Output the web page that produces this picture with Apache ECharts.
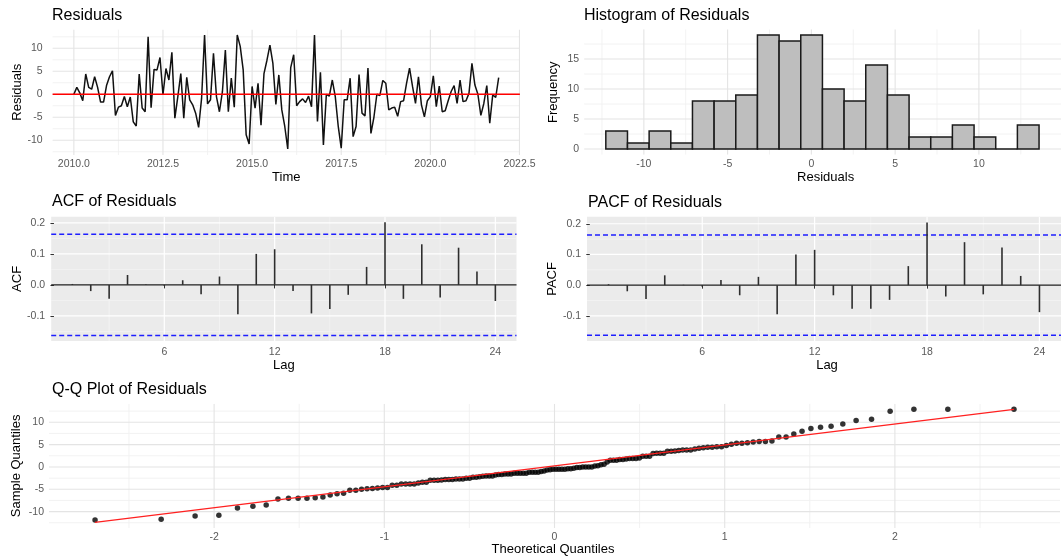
<!DOCTYPE html>
<html><head><meta charset="utf-8">
<script src="https://cdn.jsdelivr.net/npm/echarts@6/dist/echarts.min.js"></script>
<style>html,body{margin:0;padding:0;background:#fff}#c{width:1061px;height:557px}</style>
</head><body><div id="c"></div>
<script>
// ---------------- data ----------------
const startYear = 2010;
const monthsPerYear = 12;
const residuals = [
  0, 1.5, 0.3, -1.4, 4.4, 1.5, 1.1, 3.8, 1.5, -1.7, -1.7, 1.9,
  3.8, 5.1, -4.6, -2.8, -2.5, -0.5, -2.7, -0.6, -6.0, -6.9, 4.4, -3.0,
  -3.8, 12.5, -2.9, 5.4, 5.3, 8.0, -0.1, 5.6, 3.1, 9.1, -5.2, -0.5,
  4.5, -5.2, 3.7, -1.2, -2.3, -4.1, -7.2, -0.9, 12.9, -2.1, -1.2, 8.9,
  -0.5, -3.8, 0.5, 9.6, -3.8, 3.5, -2.8, 12.9, 10.4, 5.3, -8.8, -10.8,
  1.7, -3.0, 2.4, -6.7, 4.5, 7.4, 10.7, 6.7, -2.2, 4.2, -3.4, -7.0,
  -11.9, 5.8, 8.6, -2.5, -1.6, -1.0, -1.8, -0.4, -2.7, 12.9, -5.9, 4.8,
  -11.0, 0, -0.4, 3.1, -0.5, -7.0, -11.7, -1.2, -1.2, 3.5, -9.2, -7.0,
  4.3, -4.1, -4.7, 5.7, -8.5, -5.0, 0, -0.3, 3.0, 2.4, -3.4, -3.0,
  -2.8, -4.8, -1.6, -1.4, 2.4, 5.7, 1.7, -2.0, 3.8, -2.3, -4.9, -1.4,
  -0.5, 4.0, -2.7, 1.8, -3.8, -3.6, -1.4, 0.6, 1.9, -2.0, 3.1, -1.6,
  -1.4, 0.2, 6.7, 2.0, 0, -4.6, -2.0, 1.9, -6.3, -0.1, -0.7, 3.6
];
const histCounts = [3, 1, 3, 1, 8, 8, 9, 19, 18, 19, 10, 8, 14, 9, 2, 2, 4, 2, 0, 4];
const histFirstEdge = -12.27;
const histBinWidth = 1.293;
const lags = [1,2,3,4,5,6,7,8,9,10,11,12,13,14,15,16,17,18,19,20,21,22,23,24];
const acfValues = [0.003, -0.02, -0.045, 0.032, 0.001, -0.003, 0.015, -0.03, 0.027, -0.095, 0.1, 0.115,
                   -0.02, -0.092, -0.078, -0.032, 0.058, 0.202, -0.045, 0.131, -0.041, 0.12, 0.043, -0.052];
const pacfValues = [0.003, -0.02, -0.045, 0.032, 0.001, -0.005, 0.017, -0.033, 0.027, -0.095, 0.1, 0.115,
                    -0.033, -0.077, -0.077, -0.048, 0.062, 0.204, -0.037, 0.14, -0.03, 0.123, 0.03, -0.088];
const ciBound = 0.163;
const qqLineEnds = [[-2.70, -12.4], [2.70, 12.9]];
const timeTicks = [2010, 2012.5, 2015, 2017.5, 2020, 2022.5];
const residTicks = [-10, -5, 0, 5, 10];
const histXTicks = [-10, -5, 0, 5, 10];
const histYTicks = [0, 5, 10, 15];
const lagTicks = [6, 12, 18, 24];
const acfTicks = [-0.1, 0, 0.1, 0.2];
const qqXTicks = [-2, -1, 0, 1, 2];
const qqYTicks = [-10, -5, 0, 5, 10];

// ---------------- helpers ----------------
function qnorm(p){
  const a=[-3.969683028665376e+01,2.209460984245205e+02,-2.759285104469687e+02,1.383577518672690e+02,-3.066479806614716e+01,2.506628277459239e+00];
  const b=[-5.447609879822406e+01,1.615858368580409e+02,-1.556989798598866e+02,6.680131188771972e+01,-1.328068155288572e+01];
  const c=[-7.784894002430293e-03,-3.223964580411365e-01,-2.400758277161838e+00,-2.549671010322630e+00,4.374664141464968e+00,2.938163982698783e+00];
  const d=[7.784695709041462e-03,3.224671290700398e-01,2.445134137142996e+00,3.754408661907416e+00];
  const pl=0.02425, ph=1-pl; let q,r;
  if(p<pl){q=Math.sqrt(-2*Math.log(p));return (((((c[0]*q+c[1])*q+c[2])*q+c[3])*q+c[4])*q+c[5])/((((d[0]*q+d[1])*q+d[2])*q+d[3])*q+1);}
  if(p>ph){q=Math.sqrt(-2*Math.log(1-p));return -(((((c[0]*q+c[1])*q+c[2])*q+c[3])*q+c[4])*q+c[5])/((((d[0]*q+d[1])*q+d[2])*q+d[3])*q+1);}
  q=p-0.5;r=q*q;return (((((a[0]*r+a[1])*r+a[2])*r+a[3])*r+a[4])*r+a[5])*q/(((((b[0]*r+b[1])*r+b[2])*r+b[3])*r+b[4])*r+1);
}
function minorOf(ticks, range){
  const step = ticks[1]-ticks[0];
  const ext = [ticks[0]-step].concat(ticks, [ticks[ticks.length-1]+step]);
  const out = [];
  for (let i=0;i<ext.length-1;i++) out.push((ext[i]+ext[i+1])/2);
  return out.filter(v => v>range[0] && v<range[1]);
}

const FONT = '"Liberation Sans", Arial, Helvetica, sans-serif';
const tickColor = '#595959';

const grids = [
  {left:52.6, top:29.4, width:467.3, height:125.6},
  {left:584.2, top:29.3, width:483, height:125.4},
  {left:51.2, top:216.7, width:465.3, height:124.3, show:true, backgroundColor:'#EBEBEB', borderWidth:0},
  {left:587, top:216.7, width:480, height:124.3, show:true, backgroundColor:'#EBEBEB', borderWidth:0},
  {left:49, top:403.7, width:1011, height:124.3}
];
const ranges = [
  {x:[2009.404, 2022.512], y:[-13.2, 14.1]},
  {x:[-13.56, 14.9], y:[-0.95, 19.95]},
  {x:[-0.15, 25.15], y:[-0.181, 0.22]},
  {x:[-0.15, 25.15], y:[-0.182, 0.223]},
  {x:[-2.97, 2.97], y:[-13.67, 14.17]}
];
const axisTicks = [
  {x:timeTicks, y:residTicks, xf:v=>v.toFixed(1), yf:v=>String(v), tick:false, xm:3.5, ym:10},
  {x:histXTicks, y:histYTicks, xf:v=>String(v), yf:v=>String(v), tick:false, xm:3.5, ym:5},
  {x:lagTicks, y:acfTicks, xf:v=>String(v), yf:v=>v.toFixed(1), tick:true, xm:5.5, ym:6},
  {x:lagTicks, y:acfTicks, xf:v=>String(v), yf:v=>v.toFixed(1), tick:true, xm:5.5, ym:6},
  {x:qqXTicks, y:qqYTicks, xf:v=>String(v), yf:v=>String(v), tick:false, xm:4, ym:5}
];

function mkAxis(gi, range, ticks, fmt, showTick, margin){
  return {
    type:'value', gridIndex:gi, min:range[0], max:range[1],
    axisLine:{show:false},
    axisTick:{show:showTick, customValues:ticks, length:3.5, lineStyle:{color:'#333333', width:1}},
    axisLabel:{customValues:ticks, formatter:fmt, color:tickColor, fontSize:10.5, fontFamily:FONT, margin:margin},
    splitLine:{show:false}, minorSplitLine:{show:false}
  };
}
const xAxes = [], yAxes = [];
for (let i=0;i<5;i++){
  const t = axisTicks[i];
  xAxes.push(mkAxis(i, ranges[i].x, t.x, t.xf, t.tick, t.xm));
  yAxes.push(mkAxis(i, ranges[i].y, t.y, t.yf, t.tick, t.ym));
}

function gridLineSeries(gi, majStyle, minStyle){
  const r = ranges[gi], t = axisTicks[gi];
  const data = [];
  minorOf(t.x, r.x).forEach(v=>data.push([v,0,1]));
  minorOf(t.y, r.y).forEach(v=>data.push([v,1,1]));
  t.x.forEach(v=>data.push([v,0,0]));
  t.y.forEach(v=>data.push([v,1,0]));
  return {
    type:'custom', xAxisIndex:gi, yAxisIndex:gi, z:0, silent:true, clip:true,
    data:data, encode:{x:0, y:1},
    renderItem:function(params, api){
      const v = api.value(0), dim = api.value(1), minor = api.value(2);
      let p0, p1;
      if (dim === 0){ p0 = api.coord([v, r.y[0]]); p1 = api.coord([v, r.y[1]]); }
      else { p0 = api.coord([r.x[0], v]); p1 = api.coord([r.x[1], v]); }
      const st = minor ? minStyle : majStyle;
      return {type:'line', shape:{x1:p0[0], y1:p0[1], x2:p1[0], y2:p1[1]}, style:{stroke:st.color, lineWidth:st.width}};
    }
  };
}
const minimalMaj = {color:'#E4E4E4', width:1.1}, minimalMin = {color:'#F0F0F0', width:0.9};
const grayMaj = {color:'#FFFFFF', width:1.2}, grayMin = {color:'#F5F5F5', width:0.7};

function hline(gi, y, color, width, type){
  const r = ranges[gi];
  return {type:'line', xAxisIndex:gi, yAxisIndex:gi, z:3, silent:true, symbol:'none',
    data:[[r.x[0], y],[r.x[1], y]], lineStyle:{color:color, width:width, type:type||'solid'}};
}
function spikeSeries(gi, vals){
  return {type:'custom', xAxisIndex:gi, yAxisIndex:gi, z:4, silent:true,
    data: lags.map((l,i)=>[l, vals[i]]), encode:{x:0, y:1},
    renderItem:function(params, api){
      const p0 = api.coord([api.value(0), 0]), p1 = api.coord([api.value(0), api.value(1)]);
      return {type:'line', shape:{x1:p0[0], y1:p0[1], x2:p1[0], y2:p1[1]}, style:{stroke:'#2E2E2E', lineWidth:1.6}};
    }};
}

const histData = histCounts.map((c,i)=>[histFirstEdge + i*histBinWidth, histFirstEdge + (i+1)*histBinWidth, c]);
const sorted = residuals.slice().sort((a,b)=>a-b);
const n = sorted.length;
const qqData = sorted.map((v,i)=>[qnorm((i+1-0.5)/n), v]);

const series = [];
for (let i=0;i<5;i++){
  const g = (i===2||i===3);
  series.push(gridLineSeries(i, g?grayMaj:minimalMaj, g?grayMin:minimalMin));
}
series.push(hline(0, 0, '#FF0000', 1.5));
series.push({type:'line', xAxisIndex:0, yAxisIndex:0, z:2, silent:true, symbol:'none',
  data: residuals.map((v,i)=>[startYear + i/monthsPerYear, v]),
  lineStyle:{color:'#111', width:1.5}});
series.push({type:'custom', xAxisIndex:1, yAxisIndex:1, z:2, silent:true,
  data: histData, encode:{x:[0,1], y:2},
  renderItem:function(params, api){
    const p0 = api.coord([api.value(0), api.value(2)]), p1 = api.coord([api.value(1), 0]);
    return {type:'rect', shape:{x:p0[0], y:p0[1], width:p1[0]-p0[0], height:p1[1]-p0[1]},
      style:{fill:'#BEBEBE', stroke:'#1A1A1A', lineWidth:1.5}};
  }});
series.push(hline(2, 0, '#1A1A1A', 1.4));
series.push(hline(2, ciBound, '#1F1FFF', 1.5, [5, 3]));
series.push(hline(2, -ciBound, '#1F1FFF', 1.5, [5, 3]));
series.push(spikeSeries(2, acfValues));
series.push(hline(3, 0, '#1A1A1A', 1.4));
series.push(hline(3, ciBound, '#1F1FFF', 1.5, [5, 3]));
series.push(hline(3, -ciBound, '#1F1FFF', 1.5, [5, 3]));
series.push(spikeSeries(3, pacfValues));
series.push({type:'scatter', xAxisIndex:4, yAxisIndex:4, z:3, silent:true, symbol:'circle', symbolSize:5.5,
  itemStyle:{color:'#000'}, data: qqData});
series.push({type:'line', xAxisIndex:4, yAxisIndex:4, z:4, silent:true, symbol:'none',
  data: qqLineEnds, lineStyle:{color:'#FF2020', width:1.2}});

function txt(text, x, y, size, rot, align){
  return {type:'text', x:x, y:y, rotation:rot||0, silent:true, z:10,
    style:{text:text, fontSize:size, fontFamily:FONT, fill:'#000', align:align||'center', verticalAlign:'middle'}};
}
const graphics = [
  txt('Residuals', 52, 16, 16, 0, 'left'),
  txt('Histogram of Residuals', 584, 15.5, 16, 0, 'left'),
  txt('ACF of Residuals', 52, 202, 16, 0, 'left'),
  txt('PACF of Residuals', 588, 202.5, 16, 0, 'left'),
  txt('Q-Q Plot of Residuals', 52, 389.5, 16, 0, 'left'),
  txt('Time', 286.3, 177.5, 13),
  txt('Residuals', 825.6, 177.7, 13),
  txt('Lag', 283.9, 365, 13),
  txt('Lag', 827, 365, 13),
  txt('Theoretical Quantiles', 553, 549.5, 13),
  txt('Residuals', 17.2, 92.2, 13, Math.PI/2),
  txt('Frequency', 553.5, 92.2, 13, Math.PI/2),
  txt('ACF', 17.5, 278.9, 13, Math.PI/2),
  txt('PACF', 552, 278.9, 13, Math.PI/2),
  txt('Sample Quantiles', 16.8, 465.9, 13, Math.PI/2)
];

const chart = echarts.init(document.getElementById('c'), null, {renderer:'canvas', width:1061, height:557});
chart.setOption({
  backgroundColor:'#FFFFFF',
  animation:false,
  grid: grids,
  xAxis: xAxes,
  yAxis: yAxes,
  series: series,
  graphic: graphics
});
</script>
</body></html>
